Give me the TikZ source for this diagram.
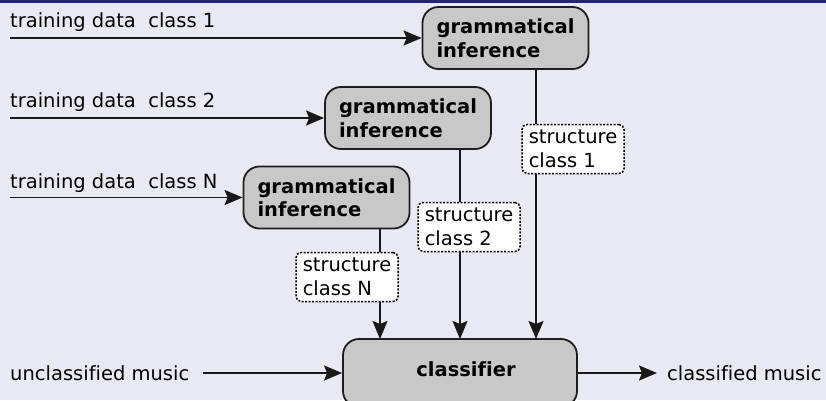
\documentclass[tikz,border=0pt]{standalone}
\usepackage{fontspec}
\setmainfont{DejaVu Sans}[Ligatures={NoCommon}]
\usetikzlibrary{arrows.meta}
\definecolor{bgcol}{RGB}{233,233,243}
\definecolor{barcol}{RGB}{35,35,120}
\definecolor{boxfill}{RGB}{200,200,200}
\definecolor{edgecol}{RGB}{30,30,30}
\tikzset{
  gibox/.style={draw=edgecol, line width=1.8pt, fill=boxfill, rounded corners=16pt,
    minimum width=166pt, minimum height=62pt, align=left, inner sep=0pt,
    font=\fontsize{19.5}{23.5}\selectfont\bfseries},
  stbox/.style={draw=black, line width=1.5pt, dash pattern=on 2pt off 1.5pt, fill=white, rounded corners=5pt,
    minimum width=102pt, minimum height=49pt, align=left, inner sep=0pt,
    font=\fontsize{19.5}{23.5}\selectfont},
  lbl/.style={font=\fontsize{19.5}{23.5}\selectfont, inner sep=0pt},
  conn/.style={draw=black!90, line width=1.9pt},
  arr/.style={conn, -{Stealth[length=18pt,width=15pt,inset=3pt]}}
}
\begin{document}
\begin{tikzpicture}[x=1pt,y=-1pt]
\useasboundingbox (0,0) rectangle (826,400);
\clip (0,0) rectangle (826,400);
\fill[bgcol] (0,0) rectangle (826,400);
\fill[barcol] (0,0) rectangle (826,2.5);

% grammatical inference boxes
\node[gibox] (gi1) at (505.5,38) {grammatical\\inference};
\node[gibox] (gi2) at (408,118) {grammatical\\inference};
\node[gibox] (gi3) at (326.5,197.5) {grammatical\\inference};

% classifier
\node[gibox, minimum width=234pt, minimum height=68pt, align=center] (cls) at (460,373) {};
\node[lbl, font=\fontsize{19.5}{23.5}\selectfont\bfseries] (clstext) at (466,369) {classifier};

% structure boxes
\node[stbox] (s1) at (573,149) {structure\\class 1};
\node[stbox] (s2) at (469,227) {structure\\class 2};
\node[stbox] (sN) at (347,277) {structure\\class N};

% training inputs
\coordinate (t1) at (10,38);
\coordinate (t2) at (10,118);
\coordinate (tN) at (10,197.5);
\node[lbl, anchor=base west] (l1) at (10,27) {training data~ class 1};
\node[lbl, anchor=base west] (l2) at (10,107) {training data~ class 2};
\node[lbl, anchor=base west] (lN) at (10,188) {training data~ class N};
\draw[arr] (t1) -- (gi1.west);
\draw[arr] (t2) -- (gi2.west);
\draw[arr] (tN) -- (gi3.west);

% vertical connectors
\coordinate (c1) at (536,339);
\coordinate (c2) at (460,339);
\coordinate (cN) at (380,339);
\draw[conn] (gi1.south -| c1) -- (s1.north -| c1);
\draw[arr] (s1.south -| c1) -- (c1);
\draw[conn] (gi2.south -| c2) -- (s2.north -| c2);
\draw[arr] (s2.south -| c2) -- (c2);
\draw[conn] (gi3.south -| cN) -- (sN.north -| cN);
\draw[arr] (sN.south -| cN) -- (cN);

% unclassified / classified
\node[lbl, anchor=west] (un) at (10,373) {unclassified music};
\coordinate (ustart) at (203,373);
\draw[arr] (ustart) -- (cls.west);
\node[lbl, anchor=west] (out) at (667,373) {classified music};
\coordinate (otip) at (657,373);
\draw[arr] (cls.east) -- (otip);
\end{tikzpicture}
\end{document}
